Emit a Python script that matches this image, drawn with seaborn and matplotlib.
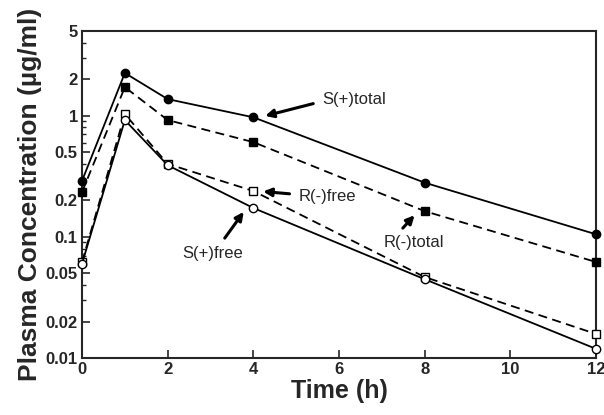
import matplotlib
matplotlib.use("Agg")
import matplotlib.pyplot as plt
import matplotlib.ticker as mticker
import seaborn as sns
import pandas as pd
import numpy as np

time_h = [0, 1, 2, 4, 8, 12]
s_total = [0.29, 2.25, 1.37, 0.97, 0.28, 0.105]
r_total = [0.234, 1.72, 0.92, 0.605, 0.163, 0.062]
r_free = [0.062, 1.03, 0.40, 0.239, 0.0466, 0.0158]
s_free = [0.06, 0.92, 0.39, 0.173, 0.0447, 0.0119]

y_ticks = [0.01, 0.02, 0.05, 0.1, 0.2, 0.5, 1, 2, 5]
y_tick_labels = ["0.01", "0.02", "0.05", "0.1", "0.2", "0.5", "1", "2", "5"]
x_ticks = [0, 2, 4, 6, 8, 10, 12]

sns.set_theme(style="ticks")
plt.rcParams['font.family'] = ['Liberation Sans', 'DejaVu Sans']

fig = plt.figure(figsize=(6.04, 4.15), dpi=100)
ax = fig.add_axes([0.1358, 0.1373, 0.851, 0.788])

series = [
    ("S(+)total", s_total, "-", "o", "black"),
    ("R(-)total", r_total, (0, (5, 3)), "s", "black"),
    ("R(-)free", r_free, (0, (5, 3)), "s", "white"),
    ("S(+)free", s_free, "-", "o", "white"),
]
for name, vals, ls, mk, fc in series:
    df = pd.DataFrame({"t": time_h, "c": vals})
    sns.lineplot(data=df, x="t", y="c", ax=ax, color="black", linestyle=ls,
                 marker=mk, markersize=6, markerfacecolor=fc,
                 markeredgecolor="black", markeredgewidth=1.0, linewidth=1.3,
                 clip_on=False, zorder=3)

ax.set_yscale("log")
ax.set_ylim(0.01, 5)
ax.set_xlim(0, 12)
ax.set_yticks(y_ticks)
ax.set_yticklabels(y_tick_labels)
ax.yaxis.set_minor_locator(mticker.LogLocator(base=10, subs=np.arange(2, 10)))
ax.yaxis.set_minor_formatter(mticker.NullFormatter())
ax.set_xticks(x_ticks)
ax.tick_params(axis="both", which="major", direction="in", length=6, width=1.2,
               labelsize=12, pad=3)
ax.tick_params(axis="y", which="minor", direction="in", length=3, width=1)
for lab in ax.get_xticklabels() + ax.get_yticklabels():
    lab.set_fontweight("bold")
for sp in ax.spines.values():
    sp.set_linewidth(1.5)
    sp.set_visible(True)

ax.set_xlabel("Time (h)", fontsize=18, fontweight="bold", labelpad=1)
ax.set_ylabel("Plasma Concentration (µg/ml)", fontsize=19, fontweight="bold", labelpad=3)

arrow = dict(arrowstyle="-|>", color="black", lw=2.2, mutation_scale=12,
             shrinkA=4, shrinkB=4, connectionstyle="arc3,rad=0")
ax.annotate("S(+)total", xy=(4.15, 0.97), xytext=(5.6, 1.35), fontsize=12,
            va="center", ha="left",
            arrowprops=dict(arrow, relpos=(0, 0.4)))
ax.annotate("R(-)free", xy=(4.1, 0.239), xytext=(5.05, 0.217), fontsize=12,
            va="center", ha="left",
            arrowprops=dict(arrow, relpos=(0, 0.6)))
ax.annotate("R(-)total", xy=(7.85, 0.163), xytext=(7.05, 0.089), fontsize=12,
            va="center", ha="left",
            arrowprops=dict(arrow, relpos=(0.2, 1.0)))
ax.annotate("S(+)free", xy=(3.85, 0.175), xytext=(2.35, 0.073), fontsize=12,
            va="center", ha="left",
            arrowprops=dict(arrow, relpos=(0.6, 1.0)))

fig.savefig("out.png", dpi=100)
